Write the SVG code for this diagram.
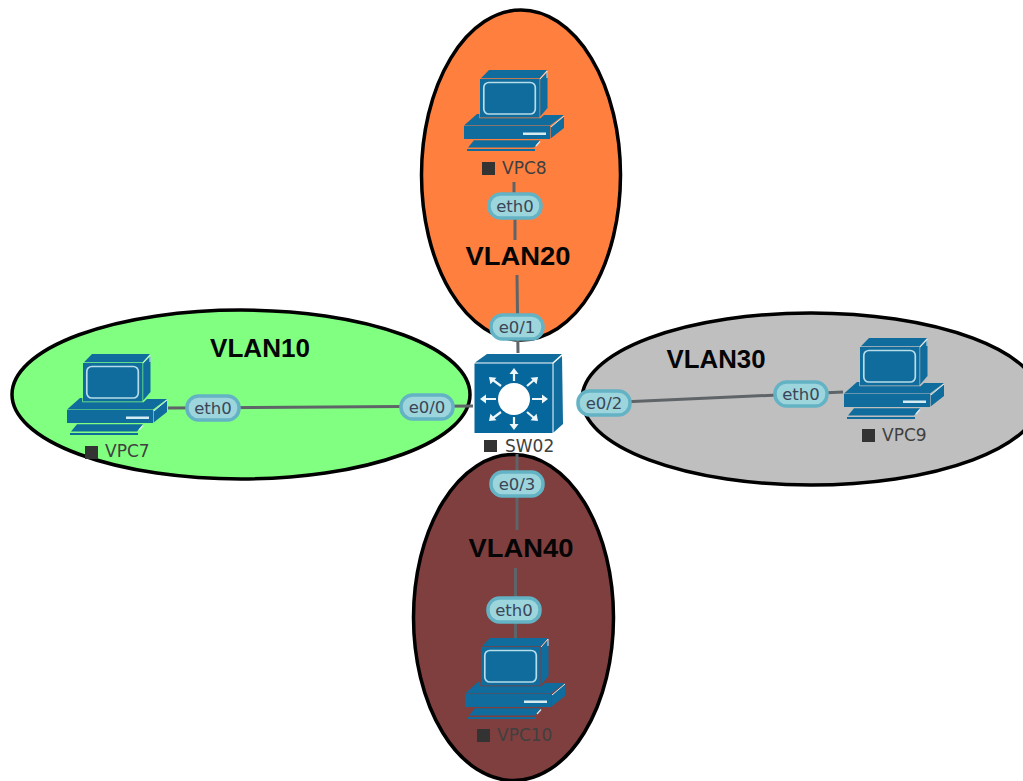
<svg xmlns="http://www.w3.org/2000/svg" width="1023" height="781" viewBox="0 0 1023 781">
<style>
.zone{stroke:#000;stroke-width:3.5}
.link{stroke:#5f6468;stroke-width:3;fill:none}
.pill{fill:#9dd5dc;stroke:#63b3c5;stroke-width:3.5}
.pt{font:16.5px "DejaVu Sans",sans-serif;fill:#3a4658;text-anchor:middle}
.nl{font:17px "DejaVu Sans",sans-serif;fill:#404040}
.vl{font:bold 25px "Liberation Sans",sans-serif;fill:#050505;text-anchor:middle}
.sq{fill:#333}
.b{fill:#0f6c9c}
</style>
<defs>
<g id="pc">
<path class="b" d="M17 8.300 25 0H83L75.500 8.300Z"/>
<path class="b" d="M76.200 9.500 83.500 2V38L76.200 46.500Z"/>
<path d="M76 9 83 1V8" fill="none" stroke="#d5ecf3" stroke-width="1"/>
<rect class="b" x="16" y="9" width="59.500" height="38.500"/>
<rect x="19.800" y="12.500" width="51.500" height="31.500" rx="5" fill="#0f6c9c" stroke="#b7dcea" stroke-width="1.700"/>
<path class="b" d="M0 55.500 13 44H15.300V48.200H76.500L80 45H100L86 55.500Z"/>
<path class="b" d="M86.600 57 100 46.500V58L86.600 68.500Z"/>
<path d="M87 57 100 46" fill="none" stroke="#d5ecf3" stroke-width="1"/>
<rect class="b" x="0" y="56" width="86" height="13"/>
<rect x="59" y="62.500" width="23" height="2.500" fill="#d6ecf3"/>
<path class="b" d="M10 70.300H76L70 77.500H4Z"/>
<path d="M72 76 76 71.500" stroke="#d5ecf3" stroke-width="1.200"/>
<path d="M3 80H71" stroke="#0f6c9c" stroke-width="1.800"/>
</g>
<g id="pill"><rect class="pill" x="-26" y="-12" width="52" height="24" rx="11.500"/></g>
<path id="ah" d="M0 0 4.500 6H-4.500Z" fill="#eef7fa"/>
</defs>
<g id="zones">
<ellipse id="z20" class="zone" fill="#ff7f3f" cx="521" cy="175" rx="99.500" ry="165"/>
<ellipse id="z10" class="zone" fill="#80ff80" cx="241" cy="394.500" rx="229" ry="84.500"/>
<ellipse id="z30" class="zone" fill="#bfbfbf" cx="811" cy="399" rx="229" ry="86"/>
<ellipse id="z40" class="zone" fill="#7f3f3f" cx="513.500" cy="617.500" rx="100" ry="163"/>
</g>
<g id="connectors">
<path class="link" d="M168 408 473 406"/>
<path class="link" d="M578 404 843 392"/>
<path class="link" d="M514 182V194M515 219V240M517 275 518 353"/>
<path class="link" d="M517 454V530M515.500 568V638"/>
</g>
<g id="vlan-labels">
<text class="vl" x="260" y="357" textLength="100" lengthAdjust="spacingAndGlyphs">VLAN10</text>
<text class="vl" x="518" y="265" textLength="105" lengthAdjust="spacingAndGlyphs">VLAN20</text>
<text class="vl" x="716" y="368" textLength="99" lengthAdjust="spacingAndGlyphs">VLAN30</text>
<text class="vl" x="521" y="557" textLength="105" lengthAdjust="spacingAndGlyphs">VLAN40</text>
</g>
<g id="VPC8"><use href="#pc" x="464" y="70"/><rect class="sq" x="482" y="162" width="13" height="13"/><text class="nl" x="502" y="174">VPC8</text></g>
<g id="VPC7"><use href="#pc" x="67" y="354"/><rect class="sq" x="85" y="446" width="13" height="13"/><text class="nl" x="105" y="457">VPC7</text></g>
<g id="VPC9"><use href="#pc" x="844" y="338"/><rect class="sq" x="862" y="429" width="13" height="13"/><text class="nl" x="882" y="441">VPC9</text></g>
<g id="VPC10"><use href="#pc" x="465" y="638"/><rect class="sq" x="477" y="729" width="13" height="13"/><text class="nl" x="497" y="741">VPC10</text></g>
<g id="SW02">
<path class="b" d="M475 362.500 487 354H562L552.500 362.500Z"/>
<path class="b" d="M553.500 363.500 562 356 563 424 553.500 432.500Z"/>
<rect x="474.500" y="363.500" width="78" height="69.500" fill="#05679c"/>
<circle cx="514" cy="399" r="16" fill="#fff"/>
<g stroke="#eef7fa" stroke-width="2.200" fill="none">
<path d="M514 381V372M514 417V426M496 399H486M532 399H542"/>
<path d="M501 386 493 380M527 386 534 380M501 412 493 418M527 412 534 418"/>
</g>
<use href="#ah" transform="translate(514 368)"/>
<use href="#ah" transform="translate(514 430) rotate(180)"/>
<use href="#ah" transform="translate(480 399) rotate(-90)"/>
<use href="#ah" transform="translate(548 399) rotate(90)"/>
<use href="#ah" transform="translate(489 377) rotate(-48)"/>
<use href="#ah" transform="translate(538 377) rotate(48)"/>
<use href="#ah" transform="translate(489 421) rotate(-132)"/>
<use href="#ah" transform="translate(538 421) rotate(132)"/>
<rect class="sq" x="484" y="440" width="13" height="12"/><text class="nl" x="505" y="452">SW02</text>
</g>
<g id="port-labels">
<g id="p-vpc8"><use href="#pill" x="515" y="206"/><text class="pt" x="515" y="212">eth0</text></g>
<g id="p-e01"><use href="#pill" x="517" y="327"/><text class="pt" x="517" y="333">e0/1</text></g>
<g id="p-e00"><use href="#pill" x="427" y="407"/><text class="pt" x="427" y="413">e0/0</text></g>
<g id="p-e02"><use href="#pill" x="604" y="403"/><text class="pt" x="604" y="409">e0/2</text></g>
<g id="p-e03"><use href="#pill" x="517" y="484"/><text class="pt" x="517" y="490">e0/3</text></g>
<g id="p-vpc7"><use href="#pill" x="213" y="408"/><text class="pt" x="213" y="414">eth0</text></g>
<g id="p-vpc9"><use href="#pill" x="801" y="394"/><text class="pt" x="801" y="400">eth0</text></g>
<g id="p-vpc10"><use href="#pill" x="514" y="610"/><text class="pt" x="514" y="616">eth0</text></g>
</g>
</svg>
